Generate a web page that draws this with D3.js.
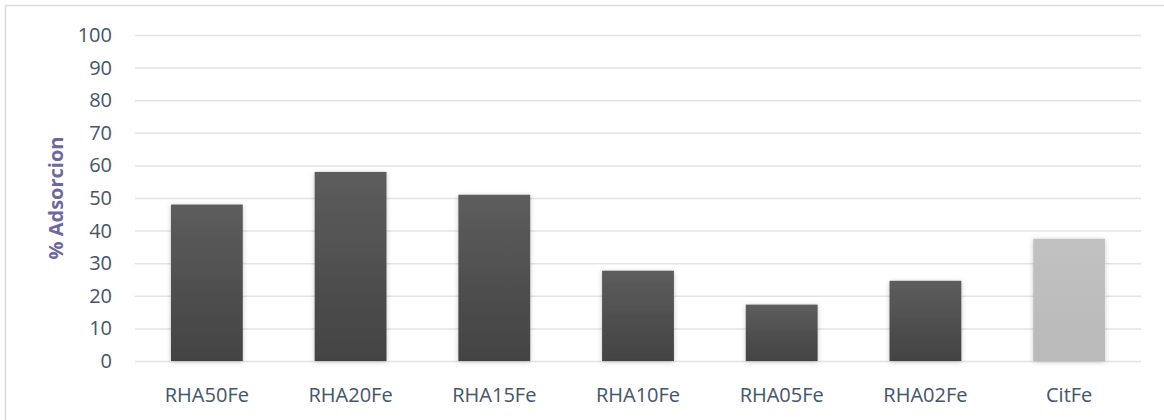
<!DOCTYPE html>
<html>
<head>
<meta charset="utf-8">
<script src="https://cdn.jsdelivr.net/npm/d3@7"></script>
<style>
  html, body { margin: 0; padding: 0; background: #fff; }
  svg { display: block; }
  text { font-family: "Open Sans", "Noto Sans", sans-serif; }
</style>
</head>
<body>
<svg id="chart" width="1164" height="420"></svg>
<script>
const categories = ["RHA50Fe", "RHA20Fe", "RHA15Fe", "RHA10Fe", "RHA05Fe", "RHA02Fe", "CitFe"];
const adsorption = [48, 58, 51, 27.7, 17.3, 24.6, 37.5];
const yTicks = [0, 10, 20, 30, 40, 50, 60, 70, 80, 90, 100];
const yTitle = "% Adsorcion";

const W = 1164, H = 420;
const margin = { left: 135, right: 23, top: 35, bottom: 59 };
const svg = d3.select("#chart");

// Gradients and soft shadow for the bars
const defs = svg.append("defs");
function grad(id, top, bottom) {
  const g = defs.append("linearGradient").attr("id", id)
    .attr("x1", 0).attr("y1", 0).attr("x2", 0).attr("y2", 1);
  g.append("stop").attr("offset", "0%").attr("stop-color", top);
  g.append("stop").attr("offset", "100%").attr("stop-color", bottom);
}
grad("gDark", "#5d5d5d", "#434343");
grad("gLight", "#c1c1c1", "#b9b9b9");
const f = defs.append("filter").attr("id", "shadow")
  .attr("x", "-20%").attr("y", "-20%").attr("width", "140%").attr("height", "140%");
f.append("feDropShadow").attr("dx", 0).attr("dy", 1).attr("stdDeviation", 2.5)
  .attr("flood-color", "#000").attr("flood-opacity", 0.22);

// Outer frame
svg.append("rect").attr("x", 5.5).attr("y", 5.5).attr("width", W).attr("height", H)
  .attr("fill", "none").attr("stroke", "#d9dde3").attr("stroke-width", 1.5);

const x = d3.scaleBand().domain(categories)
  .range([margin.left, W - margin.right]).paddingInner(0.5).paddingOuter(0.25);
const y = d3.scaleLinear().domain([0, 100]).range([H - margin.bottom, margin.top]);

// Horizontal gridlines + tick labels
const yAxis = d3.axisLeft(y).tickValues(yTicks)
  .tickSize(-(W - margin.left - margin.right)).tickPadding(23);
const gy = svg.append("g").attr("transform", `translate(${margin.left},0)`).call(yAxis);
gy.select(".domain").remove();
gy.selectAll(".tick line").attr("stroke", "#dfe3ea").attr("stroke-width", 1.5);
gy.selectAll(".tick text").attr("fill", "#44546a").attr("font-size", 20);

// Bars
svg.append("g").selectAll("rect").data(categories).join("rect")
  .attr("x", d => x(d))
  .attr("y", (d, i) => y(adsorption[i]))
  .attr("width", x.bandwidth())
  .attr("height", (d, i) => y(0) - y(adsorption[i]))
  .attr("fill", d => d === "CitFe" ? "url(#gLight)" : "url(#gDark)")
  .attr("filter", "url(#shadow)");

// Category axis labels
const xAxis = d3.axisBottom(x).tickSize(0).tickPadding(27);
const gx = svg.append("g").attr("transform", `translate(0,${y(0)})`).call(xAxis);
gx.select(".domain").remove();
gx.selectAll(".tick text").attr("fill", "#44546a").attr("font-size", 20);

// Y-axis title
svg.append("text")
  .attr("transform", `translate(55,${(y(0) + y(100)) / 2}) rotate(-90)`)
  .attr("text-anchor", "middle")
  .attr("dominant-baseline", "central")
  .attr("fill", "#6b689e").attr("font-size", 20).attr("font-weight", "bold")
  .text(yTitle);
</script>
</body>
</html>
